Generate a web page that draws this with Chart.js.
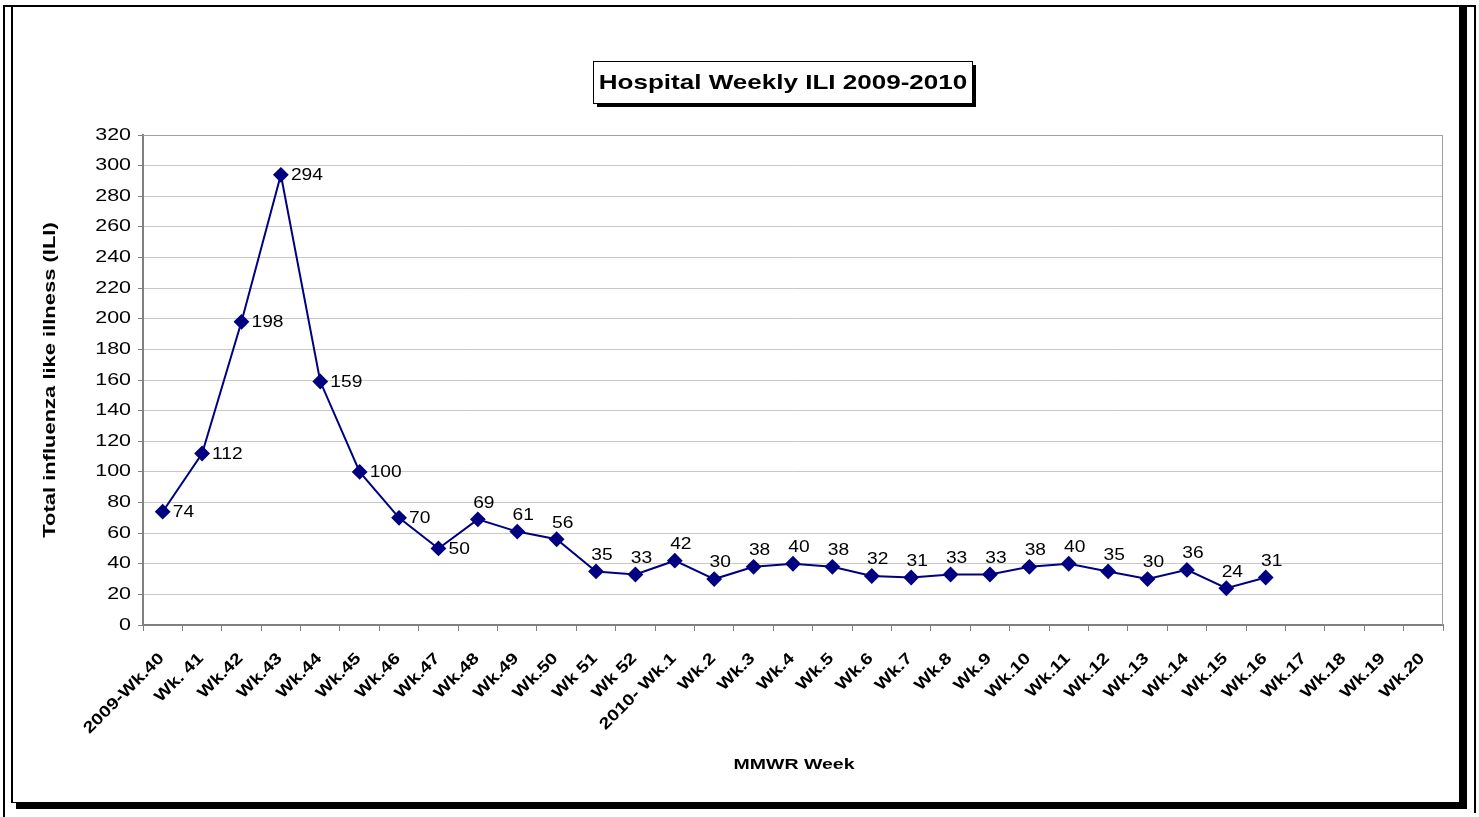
<!DOCTYPE html>
<html>
<head>
<meta charset="utf-8">
<script src="https://cdn.jsdelivr.net/npm/chart.js@4/dist/chart.umd.min.js"></script>
<style>
  html, body { margin: 0; padding: 0; background: #fff; }
</style>
</head>
<body>
<canvas id="myChart" width="1479" height="817"></canvas>
<script>
// weeks on the x axis
const weeks = ['2009-Wk.40', 'Wk. 41', 'Wk.42', 'Wk.43', 'Wk.44', 'Wk.45', 'Wk.46', 'Wk.47',
  'Wk.48', 'Wk.49', 'Wk.50', 'Wk 51', 'Wk 52', '2010- Wk.1', 'Wk.2', 'Wk.3', 'Wk.4', 'Wk.5',
  'Wk.6', 'Wk.7', 'Wk.8', 'Wk.9', 'Wk.10', 'Wk.11', 'Wk.12', 'Wk.13', 'Wk.14', 'Wk.15',
  'Wk.16', 'Wk.17', 'Wk.18', 'Wk.19', 'Wk.20']
// ILI counts, only reported up to Wk.16
const iliCounts = [74, 112, 198, 294, 159, 100, 70, 50, 69, 61, 56, 35, 33, 42, 30, 38, 40, 38,
  32, 31, 33, 33, 38, 40, 35, 30, 36, 24, 31]
const yMin = 0
const yMax = 320
const yStep = 20

const chartTitle = 'Hospital Weekly ILI 2009-2010'
const xTitle = 'MMWR Week'
const yTitle = 'Total influenza like illness (ILI)'
const lineColor = '#000080'
const FONT = '"Liberation Sans", Arial, sans-serif'

// the old excel picture draws its text wide, so stretch it along the baseline
function wideText(ctx, txt, x, y, angle, align, font, wide) {
  ctx.save()
  ctx.font = font
  ctx.textAlign = align
  ctx.textBaseline = 'middle'
  ctx.translate(x, y)
  ctx.rotate(angle)
  ctx.scale(wide, 1)
  ctx.fillText(txt, 0, 0)
  ctx.restore()
}

// frames round the whole chart (outer thin line + box with shadow)
const framePlugin = {
  id: 'frames',
  beforeDraw(chart) {
    const ctx = chart.ctx
    ctx.save()
    ctx.fillStyle = '#fff'
    ctx.fillRect(0, 0, chart.width, chart.height)
    ctx.strokeStyle = '#000'
    ctx.lineWidth = 2
    ctx.beginPath()
    ctx.moveTo(4, 817)
    ctx.lineTo(4, 6)
    ctx.lineTo(1475, 6)
    ctx.lineTo(1475, 813)
    ctx.stroke()
    ctx.fillStyle = '#000'
    ctx.fillRect(1460, 6, 7, 803)
    ctx.fillRect(16, 803, 1451, 6)
    ctx.lineWidth = 1
    ctx.strokeRect(11.5, 6.5, 1448, 796)
    ctx.fillRect(11, 6, 2, 797)
    ctx.restore()
  },
  afterDraw(chart) {
    const ctx = chart.ctx
    const area = chart.chartArea
    ctx.save()
    // plot area border (top and right)
    ctx.strokeStyle = '#a0a0a0'
    ctx.lineWidth = 1
    ctx.beginPath()
    ctx.moveTo(area.left, area.top + 0.5)
    ctx.lineTo(area.right - 0.5, area.top + 0.5)
    ctx.lineTo(area.right - 0.5, area.bottom)
    ctx.stroke()

    // title with boxed shadow
    const tFont = 'bold 21px ' + FONT
    const tWide = 1.24
    ctx.font = tFont
    const w = Math.round(ctx.measureText(chartTitle).width * tWide + 10)
    const h = 42
    const cx = (area.left + area.right) / 2 - 11
    const x0 = Math.round(cx - w / 2)
    const y0 = 61
    ctx.fillStyle = '#000'
    ctx.fillRect(x0 + 4, y0 + 4, w, h)
    ctx.fillStyle = '#fff'
    ctx.fillRect(x0, y0, w, h)
    ctx.strokeStyle = '#000'
    ctx.strokeRect(x0 + 0.5, y0 + 0.5, w, h)
    ctx.fillStyle = '#000'
    wideText(ctx, chartTitle, x0 + w / 2 + 0.5, y0 + h / 2 + 1, 0, 'center', tFont, tWide)

    // tick labels
    const xs = chart.scales.x
    const ys = chart.scales.y
    xs.ticks.forEach((t, i) => {
      const px = xs.getPixelForTick(i)
      wideText(ctx, weeks[i], px - 1, area.bottom + 31, -Math.PI / 4, 'right', 'bold 16px ' + FONT, 1.22)
    })
    ys.ticks.forEach((t, i) => {
      const py = ys.getPixelForTick(i)
      wideText(ctx, String(t.value), area.left - 12, py, 0, 'right', '16.5px ' + FONT, 1.3)
    })
    // axis titles
    wideText(ctx, xTitle, (area.left + area.right) / 2 + 1, 765, 0, 'center', 'bold 15px ' + FONT, 1.3)
    wideText(ctx, yTitle, 50, (area.top + area.bottom) / 2, -Math.PI / 2, 'center', 'bold 16.5px ' + FONT, 1.33)
    ctx.restore()
  }
}

// value labels beside each point
const valueLabels = {
  id: 'valueLabels',
  afterDatasetsDraw(chart) {
    const ctx = chart.ctx
    const meta = chart.getDatasetMeta(0)
    ctx.save()
    ctx.fillStyle = '#000'
    const f = '16px ' + FONT
    meta.data.forEach((pt, i) => {
      const v = iliCounts[i]
      if (v == null) return
      if (i < 8) {
        wideText(ctx, String(v), pt.x + 10, pt.y + 1, 0, 'left', f, 1.2)
      } else {
        wideText(ctx, String(v), pt.x + 6, pt.y - 16, 0, 'center', f, 1.2)
      }
    })
    ctx.restore()
  }
}

const ctx = document.getElementById('myChart').getContext('2d')
const myChart = new Chart(ctx, {
  type: 'line',
  data: {
    labels: weeks,
    datasets: [{
      label: 'ILI',
      data: iliCounts,
      borderColor: lineColor,
      backgroundColor: lineColor,
      borderWidth: 2,
      pointStyle: 'rectRot',
      pointRadius: 6.5,
      pointHoverRadius: 6.5,
      tension: 0
    }]
  },
  options: {
    responsive: false,
    animation: false,
    layout: { padding: { left: 138, right: 36, top: 135, bottom: 186 } },
    plugins: {
      legend: { display: false },
      title: { display: false },
      tooltip: { enabled: false }
    },
    scales: {
      x: {
        type: 'category',
        offset: true,
        grid: { offset: true, drawOnChartArea: false, tickLength: 6, color: '#808080' },
        border: { color: '#808080', width: 2 },
        ticks: { display: false, autoSkip: false }
      },
      y: {
        min: yMin,
        max: yMax,
        ticks: { display: false, stepSize: yStep },
        grid: { color: '#c8c8c8', tickColor: '#808080', tickLength: 5 },
        border: { color: '#808080', width: 2 }
      }
    }
  },
  plugins: [framePlugin, valueLabels]
})
</script>
</body>
</html>
